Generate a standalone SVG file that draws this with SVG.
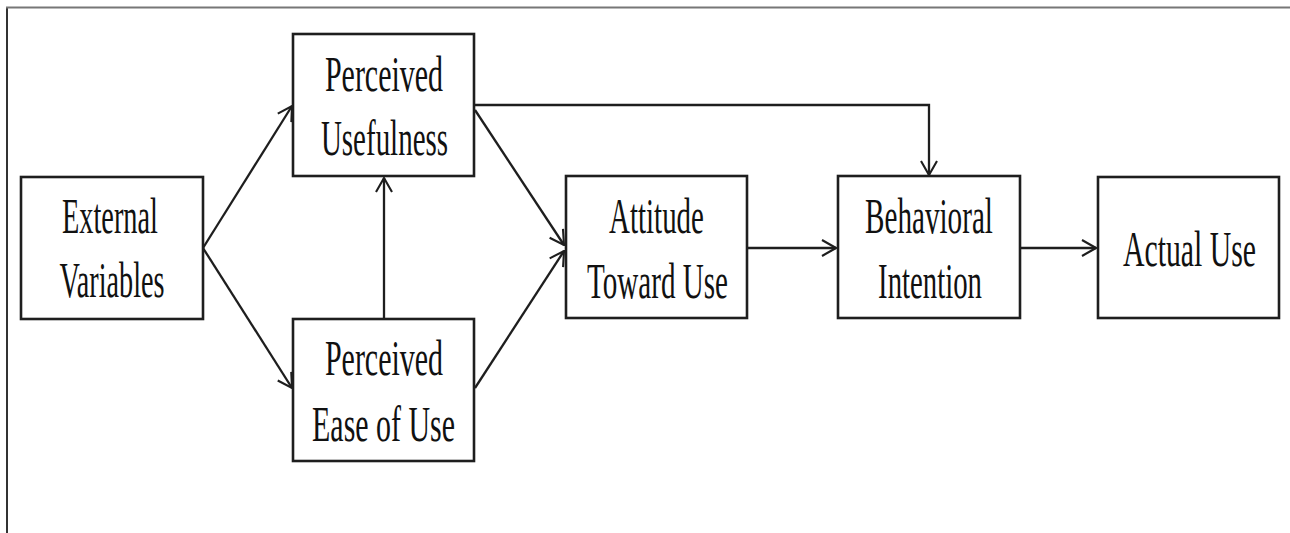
<svg xmlns="http://www.w3.org/2000/svg" width="1290" height="533" viewBox="0 0 1290 533">
  <style>
    .box { fill: #fff; stroke: #1e1e1e; stroke-width: 2.6; }
    .lbl { font-family: "Liberation Serif", "Times New Roman", serif; font-size: 50px; fill: #111; text-anchor: middle; }
    .edge { fill: none; stroke: #1e1e1e; stroke-width: 2.3; }
  </style>
  <defs>
    <marker id="arrow" viewBox="0 0 16 18" refX="15" refY="9" markerWidth="16" markerHeight="18" markerUnits="userSpaceOnUse" orient="auto">
      <path d="M1,1 L15,9 L1,17" fill="none" stroke="#1e1e1e" stroke-width="2.1"/>
    </marker>
  </defs>
  <rect width="1290" height="533" fill="#fff"/>
  <!-- page frame -->
  <path d="M7,533 L7,7.5" fill="none" stroke="#333" stroke-width="2"/>
  <path d="M6,7.5 L1290,7.5" fill="none" stroke="#777" stroke-width="2"/>

  <g id="connectors">
    <path class="edge" d="M203,248 L292,106" marker-end="url(#arrow)"/>
    <path class="edge" d="M203,248 L292,388" marker-end="url(#arrow)"/>
    <path class="edge" d="M384,319 L384,178" marker-end="url(#arrow)"/>
    <path class="edge" d="M475,110 L564,245" marker-end="url(#arrow)"/>
    <path class="edge" d="M475,388 L564,251" marker-end="url(#arrow)"/>
    <path class="edge" d="M475,105 L929,105 L929,175" marker-end="url(#arrow)"/>
    <path class="edge" d="M748,248 L836,248" marker-end="url(#arrow)"/>
    <path class="edge" d="M1021,248 L1096,248" marker-end="url(#arrow)"/>
  </g>

  <!-- labels are set in a narrowed serif: scale(0.6,1), widths given in unscaled units -->
  <g id="external-variables">
    <rect class="box" x="21" y="177" width="182" height="142"/>
    <text class="lbl" transform="translate(110,233) scale(0.6,1)" textLength="160" lengthAdjust="spacingAndGlyphs">External</text>
    <text class="lbl" transform="translate(112,297) scale(0.6,1)" textLength="175" lengthAdjust="spacingAndGlyphs">Variables</text>
  </g>

  <g id="perceived-usefulness">
    <rect class="box" x="293" y="34" width="181" height="142"/>
    <text class="lbl" transform="translate(384,91) scale(0.6,1)" textLength="197" lengthAdjust="spacingAndGlyphs">Perceived</text>
    <text class="lbl" transform="translate(384.5,155) scale(0.6,1)" textLength="212" lengthAdjust="spacingAndGlyphs">Usefulness</text>
  </g>

  <g id="perceived-ease-of-use">
    <rect class="box" x="293" y="319" width="181" height="142"/>
    <text class="lbl" transform="translate(384,375) scale(0.6,1)" textLength="197" lengthAdjust="spacingAndGlyphs">Perceived</text>
    <text class="lbl" transform="translate(383.5,441) scale(0.6,1)" textLength="238" lengthAdjust="spacingAndGlyphs">Ease of Use</text>
  </g>

  <g id="attitude-toward-use">
    <rect class="box" x="566" y="176" width="181" height="142"/>
    <text class="lbl" transform="translate(656.5,233) scale(0.6,1)" textLength="158" lengthAdjust="spacingAndGlyphs">Attitude</text>
    <text class="lbl" transform="translate(657.5,298) scale(0.6,1)" textLength="235" lengthAdjust="spacingAndGlyphs">Toward Use</text>
  </g>

  <g id="behavioral-intention">
    <rect class="box" x="838" y="176" width="182" height="142"/>
    <text class="lbl" transform="translate(929,233) scale(0.6,1)" textLength="213" lengthAdjust="spacingAndGlyphs">Behavioral</text>
    <text class="lbl" transform="translate(930,298) scale(0.6,1)" textLength="173" lengthAdjust="spacingAndGlyphs">Intention</text>
  </g>

  <g id="actual-use">
    <rect class="box" x="1098" y="177" width="181" height="141"/>
    <text class="lbl" transform="translate(1189.5,266) scale(0.6,1)" textLength="222" lengthAdjust="spacingAndGlyphs">Actual Use</text>
  </g>
</svg>
